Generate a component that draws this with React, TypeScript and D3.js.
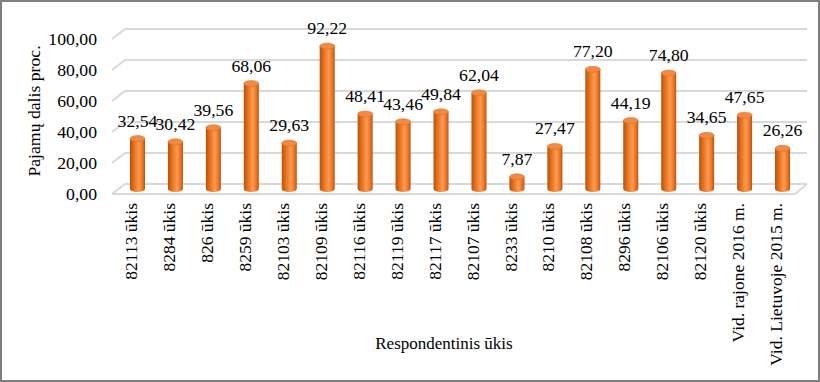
import React from "react";
import * as d3 from "d3";

const categories = ["82113 ūkis","8284 ūkis","826 ūkis","8259 ūkis","82103 ūkis","82109 ūkis","82116 ūkis","82119 ūkis","82117 ūkis","82107 ūkis","8233 ūkis","8210 ūkis","82108 ūkis","8296 ūkis","82106 ūkis","82120 ūkis","Vid. rajone 2016 m.","Vid. Lietuvoje 2015 m."];
const values = [32.54,30.42,39.56,68.06,29.63,92.22,48.41,43.46,49.84,62.04,7.87,27.47,77.20,44.19,74.80,34.65,47.65,26.26];
const yTicks = [0,20,40,60,80,100];

const W = 820, H = 382;
const DX = 13, DY = 10;
const font = "'Liberation Serif', 'Times New Roman', serif";

export default function App() {
  const x = d3.scaleBand<string>().domain(categories).range([112, 795]);
  const yFront = d3.scaleLinear().domain([0, 100]).range([194, 39]);
  const fmt = (v: number) => v.toFixed(2).replace(".", ",");
  const bw = 15, ry = 3;
  const midX = DX / 2, midY = DY / 2;
  return (
    <svg width={W} height={H} style={{ position: "absolute", left: 0, top: 0 }} fontFamily={font}>
      <defs>
        <linearGradient id="cyl" x1="0" x2="1" y1="0" y2="0">
          <stop offset="0%" stopColor="#b8500c" />
          <stop offset="25%" stopColor="#e0701c" />
          <stop offset="60%" stopColor="#ff9a50" />
          <stop offset="85%" stopColor="#e87324" />
          <stop offset="100%" stopColor="#b8500c" />
        </linearGradient>
      </defs>
      <rect x={1} y={1} width={W - 2} height={H - 2} fill="#fff" stroke="#7f7f7f" strokeWidth={2} />
      {yTicks.map(t => (
        <g key={t}>
          <polyline
            points={`${112},${yFront(t)} ${112 + DX},${yFront(t) - DY} ${807},${yFront(t) - DY}`}
            fill="none" stroke="#d9d9d9" strokeWidth={2} />
          <text x={97} y={yFront(t)} dy="0.35em" textAnchor="end" fontSize={17.7} fill="#000">{fmt(t)}</text>
        </g>
      ))}
      <line x1={112} x2={795} y1={yFront(0)} y2={yFront(0)} stroke="#d9d9d9" strokeWidth={2} />
      <line x1={795} x2={807} y1={yFront(0)} y2={yFront(0) - DY} stroke="#d9d9d9" strokeWidth={2} />
      {categories.map((c, i) => {
        const cx = (x(c) as number) + x.bandwidth() / 2 + midX;
        const yb = yFront(0) - midY;
        const yt = yFront(values[i]) - midY;
        return (
          <g key={c}>
            <path
              d={`M${cx - bw / 2},${yt} L${cx - bw / 2},${yb} A${bw / 2},${ry} 0 0 0 ${cx + bw / 2},${yb} L${cx + bw / 2},${yt} Z`}
              fill="url(#cyl)" />
            <ellipse cx={cx} cy={yt} rx={bw / 2} ry={ry} fill="#f08a45" stroke="#d8681c" strokeWidth={0.5} />
            <text x={cx} y={yt - 12} textAnchor="middle" fontSize={17.7} fill="#000">{fmt(values[i])}</text>
          </g>
        );
      })}
      {categories.map(c => {
        const cx = (x(c) as number) + x.bandwidth() / 2;
        return (
          <text key={c} transform={`translate(${cx},203) rotate(-90)`} dy="0.35em" textAnchor="end" fontSize={17.5} fill="#000">{c}</text>
        );
      })}
      <text transform="translate(34,111) rotate(-90)" dy="0.35em" textAnchor="middle" fontSize={17.7} fill="#000">Pajamų dalis proc.</text>
      <text x={444} y={343} dy="0.35em" textAnchor="middle" fontSize={17} fill="#000">Respondentinis ūkis</text>
    </svg>
  );
}
